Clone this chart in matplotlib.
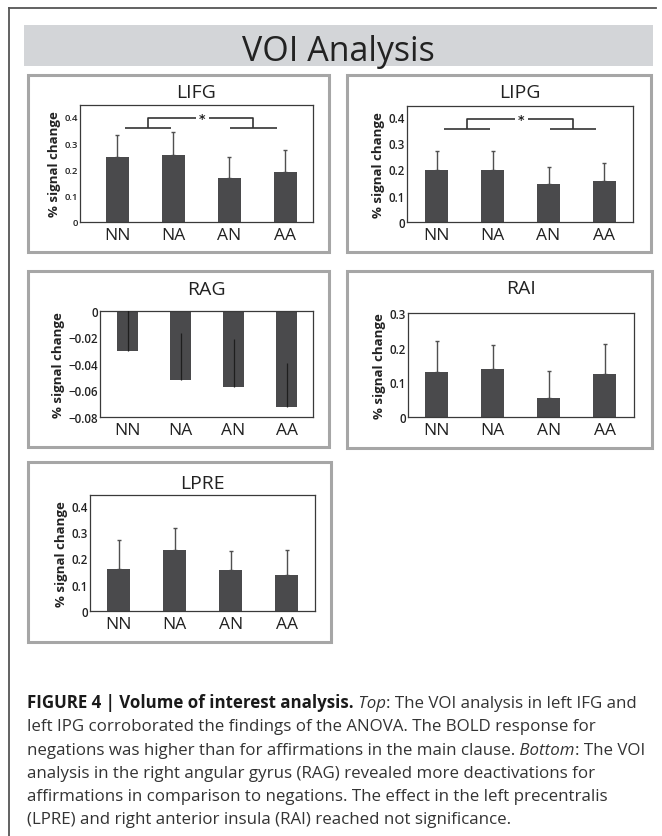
import numpy as np
import matplotlib.pyplot as plt
from matplotlib.patches import Rectangle
from matplotlib.lines import Line2D

# conditions and values
conds = ['NN', 'NA', 'AN', 'AA']

lifg_mean = [0.246, 0.255, 0.168, 0.190]
lifg_err = [0.083, 0.087, 0.078, 0.085]
lifg_sig = [0.358, 0.395]

lipg_mean = [0.199, 0.197, 0.145, 0.157]
lipg_err = [0.069, 0.071, 0.063, 0.068]
lipg_sig = [0.351, 0.389]

rag_mean = [-0.0302, -0.0523, -0.0571, -0.0722]
rag_err = [0.031, 0.0355, 0.0357, 0.0327]

rai_mean = [0.129, 0.138, 0.056, 0.125]
rai_err = [0.091, 0.070, 0.077, 0.086]

lpre_mean = [0.159, 0.231, 0.155, 0.136]
lpre_err = [0.110, 0.084, 0.072, 0.096]

pos_ticks = [0, 0.1, 0.2, 0.3, 0.4]
pos_labels = ['0', '0.1', '0.2', '0.3', '0.4']
rai_ticks = [0, 0.1, 0.2, 0.3]
rai_labels = ['0', '0.1', '0.2', '0.3']
rag_ticks = [0, -0.02, -0.04, -0.06, -0.08]
rag_labels = ['0', '\u22120.02', '\u22120.04', '\u22120.06', '\u22120.08']

W, H = 662, 837
FONT = 'Open Sans'
BAR = '#4a4a4c'

plt.rcParams['font.family'] = [FONT, 'DejaVu Sans']
fig = plt.figure(figsize=(W / 100, H / 100), dpi=100)


def fx(x):
    return x / W


def fy(y):
    return 1 - y / H


def box(x0, y0, x1, y1, **kw):
    r = Rectangle((fx(x0), fy(y1)), (x1 - x0) / W, (y1 - y0) / H,
                  transform=fig.transFigure, **kw)
    fig.patches.append(r)


# outer frame
fig.lines.append(Line2D([fx(9), fx(656)], [fy(9), fy(9)], transform=fig.transFigure,
                        color='#555555', lw=1.3))
fig.lines.append(Line2D([fx(9), fx(9)], [fy(9), fy(837)], transform=fig.transFigure,
                        color='#555555', lw=1.3))

# header band
box(24, 26, 653, 67, facecolor='#d3d5d8', edgecolor='none')
fig.text(fx(338), fy(61), 'VOI Analysis', ha='center', va='baseline',
         fontsize=24.5, color='#222222')


def panel(pbox, abox, title, title_base, means, errs, ticks, labels, ylim, xlim,
          ytfs=7, sig=None, inside=False):
    box(*pbox, facecolor='none', edgecolor='#a6a6a6', lw=2.2)
    l, t, r, b = abox
    ax = fig.add_axes([fx(l), fy(b), (r - l) / W, (b - t) / H])
    x = np.arange(1, len(conds) + 1)
    ax.bar(x, means, width=0.41, color=BAR, zorder=2)
    if inside:
        ax.errorbar(x, means, yerr=[np.zeros(len(errs)), errs], fmt='none',
                    ecolor='#1e1e1e', elinewidth=0.9, capsize=0, zorder=3)
    else:
        ax.errorbar(x, means, yerr=[np.zeros(len(errs)), errs], fmt='none',
                    ecolor='#505050', elinewidth=1.0, capsize=1.6, capthick=1.0,
                    zorder=1)
    ax.set_xlim(*xlim)
    ax.set_ylim(*ylim)
    ax.set_xticks(x)
    ax.set_xticklabels(conds, fontsize=12.5, color='#222222')
    ax.set_yticks(ticks)
    ax.set_yticklabels(labels, fontsize=ytfs, fontweight='semibold', color='#222222')
    ax.tick_params(axis='x', length=0, pad=3.5)
    ax.tick_params(axis='y', length=0, pad=1.5)
    for s in ax.spines.values():
        s.set_color('#3a3a3a')
        s.set_linewidth(0.9)
    ax.set_ylabel('% signal change', fontsize=9.5, fontweight='bold',
                  color='#222222', labelpad=2.5)
    fig.text(fx((l + r) / 2), fy(title_base), title, ha='center', va='baseline',
             fontsize=14, color='#222222')
    if sig is not None:
        lo, hi = sig
        kw = dict(color='#333333', lw=1.2, solid_capstyle='butt')
        ax.plot([x[0] + 0.13, x[1] - 0.05], [lo, lo], **kw)
        ax.plot([x[2] + 0.02, x[3] - 0.15], [lo, lo], **kw)
        lc = (x[0] + 0.13 + x[1] - 0.05) / 2
        rc = (x[2] + 0.02 + x[3] - 0.15) / 2
        mid = (x[1] + x[2]) / 2
        ax.plot([lc, lc, mid - 0.1], [lo, hi, hi], **kw)
        ax.plot([mid + 0.13, rc, rc], [hi, hi, lo], **kw)
        ax.text(mid + 0.015, hi, '*', ha='center', va='center', fontsize=9,
                fontweight='bold', color='#222222', family='DejaVu Sans')
    return ax


panel((28, 76, 329, 253), (80, 106, 313, 223), 'LIFG', 98, lifg_mean, lifg_err,
      pos_ticks, pos_labels, (0, 0.445), (0.33, 4.5), ytfs=6.8, sig=lifg_sig)
panel((347, 76, 651, 253), (407, 107, 633, 223), 'LIPG', 98, lipg_mean, lipg_err,
      pos_ticks, pos_labels, (0, 0.44), (0.47, 4.51), ytfs=8.3, sig=lipg_sig)
panel((28, 272, 329, 448), (100, 312, 313, 418), 'RAG', 295, rag_mean, rag_err,
      rag_ticks, rag_labels, (-0.08, 0), (0.48, 4.5), ytfs=8.3, inside=True)
panel((347, 272, 652, 449), (408, 314, 634, 418), 'RAI', 294, rai_mean, rai_err,
      rai_ticks, rai_labels, (0, 0.3), (0.49, 4.52), ytfs=8.3)
panel((28, 463, 331, 643), (90, 496, 315, 612), 'LPRE', 489, lpre_mean, lpre_err,
      pos_ticks, pos_labels, (0, 0.44), (0.49, 4.5), ytfs=8.3)

# caption
fs = 12.2
reg = dict(fontsize=fs, color='#333333')
bold = dict(fontsize=fs, color='#1a1a1a', fontweight='bold')
ital = dict(fontsize=fs, color='#333333', style='italic')
caption = [
    [('FIGURE 4 | Volume of interest analysis.', bold), (' Top', ital),
     (': The VOI analysis in left IFG and', reg)],
    [('left IPG corroborated the findings of the ANOVA. The BOLD response for', reg)],
    [('negations was higher than for affirmations in the main clause.', reg),
     (' Bottom', ital), (': The VOI', reg)],
    [('analysis in the right angular gyrus (RAG) revealed more deactivations for', reg)],
    [('affirmations in comparison to negations. The effect in the left precentralis', reg)],
    [('(LPRE) and right anterior insula (RAI) reached not significance.', reg)],
]
rend = fig.canvas.get_renderer()
for i, pieces in enumerate(caption):
    x = 27
    y = 708 + 23.3 * i
    for s, st in pieces:
        t = fig.text(fx(x), fy(y), s, ha='left', va='baseline', **st)
        x += t.get_window_extent(renderer=rend).width

fig.savefig('out.png', dpi=100)
